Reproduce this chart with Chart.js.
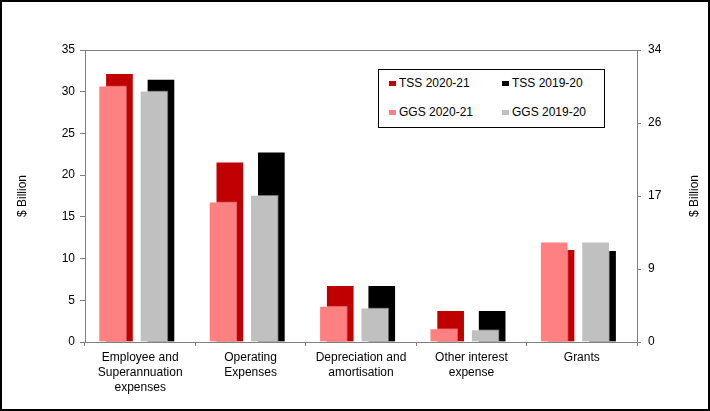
<!DOCTYPE html>
<html>
<head>
<meta charset="utf-8">
<script src="https://cdn.jsdelivr.net/npm/chart.js@4.4.1/dist/chart.umd.min.js"></script>
<style>
html, body { margin: 0; padding: 0; background: #fff; }
#wrap { position: relative; width: 710px; height: 411px; }
#legend { position: absolute; left: 378px; top: 69px; width: 225px; height: 57px; border: 1px solid #000; background: #fff;
  font: 12px "Liberation Sans", Arial, sans-serif; color: #000; }
.item { position: absolute; display: flex; align-items: center; height: 14px; white-space: nowrap; }
.item i { display: inline-block; width: 7px; height: 5px; margin-right: 3px; }
</style>
</head>
<body>
<div id="wrap">
  <canvas id="chart" width="710" height="411"></canvas>
  <div id="legend"></div>
</div>
<script>
var categories = [['Employee and', 'Superannuation', 'expenses'], ['Operating', 'Expenses'], ['Depreciation and', 'amortisation'], ['Other interest', 'expense'], 'Grants'];
var tss2021 = [32.2, 21.6, 6.8, 3.8, 11.1];
var tss1920 = [31.5, 22.8, 6.8, 3.8, 11.0];
var ggs2021 = [30.7, 16.8, 4.3, 1.6, 12.0];
var ggs1920 = [30.1, 17.6, 4.1, 1.5, 12.0];
var rightTicks = ['0', '9', '17', '26', '34'];

var font = '"Liberation Sans", Arial, sans-serif';

// bars sit on a hidden linear axis so each series can be nudged inside its category
function bars(label, values, color, shift, order) {
    return {
        label: label,
        data: values.map(function (v, i) { return { x: i + shift, y: v }; }),
        backgroundColor: color,
        borderColor: 'rgba(255,255,255,0.35)',
        borderWidth: 1,
        barThickness: 28,
        grouped: false,
        order: order,
        xAxisID: 'xb',
        yAxisID: 'y'
    };
}

var decor = {
    id: 'decor',
    beforeDraw: function (chart) {
        var ctx = chart.ctx;
        ctx.save();
        ctx.fillStyle = '#fff';
        ctx.fillRect(0, 0, chart.width, chart.height);
        ctx.restore();
    },
    afterDraw: function (chart) {
        var ctx = chart.ctx, a = chart.chartArea;
        ctx.save();
        ctx.strokeStyle = '#808080';
        ctx.lineWidth = 1;
        ctx.strokeRect(Math.round(a.left) + 0.5, Math.round(a.top) + 0.5, Math.round(a.right - a.left), Math.round(a.bottom - a.top));
        ctx.strokeStyle = '#000';
        ctx.lineWidth = 2;
        ctx.strokeRect(1, 1, chart.width - 2, chart.height - 2);
        ctx.fillStyle = '#000';
        ctx.font = '12px ' + font;
        ctx.textAlign = 'center';
        ctx.textBaseline = 'middle';
        var cy = (a.top + a.bottom) / 2;
        [23, 695].forEach(function (x) {
            ctx.save();
            ctx.translate(x, cy);
            ctx.rotate(-Math.PI / 2);
            ctx.fillText('$ Billion', 0, 0);
            ctx.restore();
        });
        ctx.restore();
    }
};

var ctx = document.getElementById('chart').getContext('2d');
var chart = new Chart(ctx, {
    type: 'bar',
    data: {
        labels: categories,
        datasets: [
            bars('TSS 2020-21', tss2021, '#C00000', -0.188, 1),
            bars('TSS 2019-20', tss1920, '#000000', 0.188, 1),
            bars('GGS 2020-21', ggs2021, '#FF8080', -0.25, 0),
            bars('GGS 2019-20', ggs1920, '#C0C0C0', 0.125, 0)
        ]
    },
    options: {
        responsive: false,
        animation: false,
        devicePixelRatio: 1,
        layout: { padding: { top: 50, left: 0, right: 0, bottom: 0 } },
        plugins: { legend: { display: false }, tooltip: { enabled: false } },
        scales: {
            x: {
                type: 'category',
                position: 'bottom',
                offset: true,
                grid: { offset: true, drawOnChartArea: false, color: '#808080', tickLength: 4 },
                border: { color: '#808080' },
                ticks: { color: '#000', padding: 4, maxRotation: 0, autoSkip: false, font: { family: font, size: 12, lineHeight: 1.25 } },
                afterFit: function (s) { s.height = 69; }
            },
            xb: { type: 'linear', display: false, offset: false, grid: { offset: false }, min: -0.5, max: 4.5 },
            y: {
                position: 'left',
                min: 0, max: 35,
                grid: { drawOnChartArea: false, color: '#808080', tickLength: 5 },
                border: { color: '#808080' },
                ticks: { stepSize: 5, color: '#000', padding: 5, font: { family: font, size: 12 } },
                afterFit: function (s) { s.width = 85; }
            },
            y2: {
                position: 'right',
                min: 0, max: 34,
                grid: { drawOnChartArea: false, color: '#808080', tickLength: 4 },
                border: { color: '#808080' },
                ticks: {
                    stepSize: 8.5, color: '#000', padding: 7, font: { family: font, size: 12 },
                    callback: function (v, i) { return rightTicks[i]; }
                },
                afterFit: function (s) { s.width = 73; }
            }
        }
    },
    plugins: [decor]
});

// legend box, two columns like the original
var legend = document.getElementById('legend');
chart.data.datasets.forEach(function (ds, i) {
    var item = document.createElement('div');
    item.className = 'item';
    item.style.left = (10 + (i % 2) * 113) + 'px';
    item.style.top = (6 + Math.floor(i / 2) * 29) + 'px';
    item.innerHTML = '<i style="background:' + ds.backgroundColor + '"></i>' + ds.label;
    legend.appendChild(item);
});
</script>
</body>
</html>
